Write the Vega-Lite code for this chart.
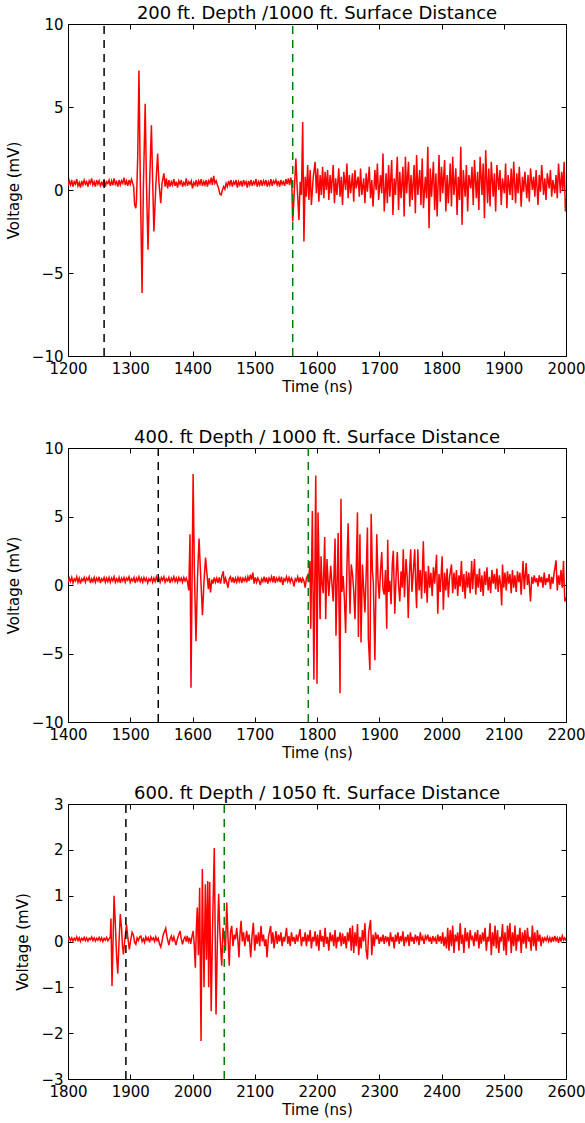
{
"$schema": "https://vega.github.io/schema/vega-lite/v6.json",
"padding": {"left": 5, "top": 4, "right": 19, "bottom": 5},
"background": "white",
"config": {
  "font": "DejaVu Sans",
  "view": {"stroke": "#000000", "strokeWidth": 1},
  "axis": {"domain": false, "grid": false, "ticks": true, "tickColor": "#000000", "tickSize": -5, "tickWidth": 1, "labelPadding": 10, "labelFont": "DejaVu Sans", "labelFontSize": 15, "labelColor": "#000000", "labelFlush": false, "labelOverlap": false, "titleFont": "DejaVu Sans", "titleFontSize": 15, "titleFontWeight": "normal", "titleColor": "#000000"},
  "axisX": {"titlePadding": 3},
  "axisY": {"titlePadding": 10},
  "title": {"font": "DejaVu Sans", "fontSize": 18, "fontWeight": "normal", "color": "#000000", "anchor": "middle", "baseline": "alphabetic", "offset": -6}
},
"datasets": {
"marks": [
 {"panel": 1, "t": 1258, "kind": "direct", "lo": -10, "hi": 10},
 {"panel": 1, "t": 1561, "kind": "reflected", "lo": -10, "hi": 10},
 {"panel": 2, "t": 1545, "kind": "direct", "lo": -10, "hi": 10},
 {"panel": 2, "t": 1786, "kind": "reflected", "lo": -10, "hi": 10},
 {"panel": 3, "t": 1893, "kind": "direct", "lo": -3, "hi": 3},
 {"panel": 3, "t": 2051, "kind": "reflected", "lo": -3, "hi": 3}
],
"p1": [
{"t":1200,"v":0.25},{"t":1202,"v":0.55},{"t":1204,"v":0.3},{"t":1206,"v":0.6},{"t":1208,"v":0.2},{"t":1210,"v":0.5},{"t":1212,"v":0.35},{"t":1214,"v":0.65},{"t":1216,"v":0.25},{"t":1218,"v":0.45},{"t":1220,"v":0.15},{"t":1222,"v":0.55},{"t":1224,"v":0.3},{"t":1226,"v":0.6},{"t":1228,"v":0.35},{"t":1230,"v":0.5},{"t":1232,"v":0.2},{"t":1234,"v":0.55},{"t":1236,"v":0.4},{"t":1238,"v":0.7},{"t":1240,"v":0.3},{"t":1242,"v":0.5},{"t":1244,"v":0.2},{"t":1246,"v":0.6},{"t":1248,"v":0.35},{"t":1250,"v":0.55},{"t":1252,"v":0.25},{"t":1254,"v":0.45},{"t":1256,"v":0.3},{"t":1258,"v":0.65},{"t":1260,"v":0.2},{"t":1262,"v":0.5},{"t":1264,"v":0.4},{"t":1266,"v":0.6},{"t":1268,"v":0.25},{"t":1270,"v":0.55},{"t":1272,"v":0.3},{"t":1274,"v":0.7},{"t":1276,"v":0.35},{"t":1278,"v":0.5},{"t":1280,"v":0.2},{"t":1282,"v":0.6},{"t":1284,"v":0.3},{"t":1286,"v":0.55},{"t":1288,"v":0.4},{"t":1290,"v":0.75},{"t":1292,"v":0.3},{"t":1294,"v":0.55},{"t":1296,"v":0.25},{"t":1298,"v":0.6},{"t":1300,"v":0.35},{"t":1302,"v":0.65},{"t":1304,"v":0.4},{"t":1305.5,"v":0.2},{"t":1307,"v":-0.9},{"t":1309,"v":-1.1},{"t":1310,"v":-0.6},{"t":1312,"v":2.0},{"t":1314,"v":7.2},{"t":1316,"v":1.0},{"t":1319,"v":-6.2},{"t":1321,"v":0.0},{"t":1324,"v":5.2},{"t":1326,"v":0.5},{"t":1328.5,"v":-3.6},{"t":1331,"v":0.3},{"t":1334,"v":3.9},{"t":1336,"v":0.5},{"t":1338,"v":-2.5},{"t":1341,"v":0.2},{"t":1344,"v":2.2},{"t":1346,"v":0.5},{"t":1349,"v":-0.8},{"t":1351,"v":0.4},{"t":1354,"v":1.0},{"t":1356,"v":0.2},{"t":1358,"v":0.7},{"t":1360,"v":0.1},
{"t":1362,"v":0.6},{"t":1364,"v":0.2},{"t":1366,"v":0.5},{"t":1368,"v":0.3},{"t":1370,"v":0.65},{"t":1372,"v":0.25},{"t":1374,"v":0.5},{"t":1376,"v":0.15},{"t":1378,"v":0.55},{"t":1380,"v":0.35},{"t":1382,"v":0.6},{"t":1384,"v":0.2},{"t":1386,"v":0.45},{"t":1388,"v":0.3},{"t":1390,"v":0.7},{"t":1392,"v":0.25},{"t":1394,"v":0.5},{"t":1396,"v":0.35},{"t":1398,"v":0.55},{"t":1400,"v":0.1},{"t":1402,"v":0.45},{"t":1404,"v":0.3},{"t":1406,"v":0.6},{"t":1408,"v":0.2},{"t":1410,"v":0.55},{"t":1412,"v":0.35},{"t":1414,"v":0.65},{"t":1416,"v":0.25},{"t":1418,"v":0.5},{"t":1420,"v":0.3},{"t":1422,"v":0.6},{"t":1424,"v":0.2},{"t":1426,"v":0.55},{"t":1428,"v":0.4},{"t":1430,"v":0.75},{"t":1432,"v":0.3},{"t":1434,"v":0.85},{"t":1436,"v":0.4},{"t":1438,"v":0.55},{"t":1440,"v":0.3},{"t":1442,"v":0.1},{"t":1444,"v":-0.25},{"t":1446,"v":-0.3},{"t":1448,"v":0.0},{"t":1450,"v":0.2},{"t":1452,"v":0.05},{"t":1454,"v":0.4},{"t":1456,"v":0.2},{"t":1458,"v":0.55},{"t":1460,"v":0.3},{"t":1462,"v":0.6},{"t":1464,"v":0.2},{"t":1466,"v":0.5},{"t":1468,"v":0.35},{"t":1470,"v":0.6},{"t":1472,"v":0.15},{"t":1474,"v":0.5},{"t":1476,"v":0.3},{"t":1478,"v":0.55},{"t":1480,"v":0.2},{"t":1482,"v":0.6},{"t":1484,"v":0.35},{"t":1486,"v":0.5},{"t":1488,"v":0.15},{"t":1490,"v":0.55},{"t":1492,"v":0.3},{"t":1494,"v":0.6},{"t":1496,"v":0.25},{"t":1498,"v":0.5},{"t":1500,"v":0.35},{"t":1502,"v":0.65},{"t":1504,"v":0.2},{"t":1506,"v":0.5},{"t":1508,"v":0.3},{"t":1510,"v":0.6},{"t":1512,"v":0.25},{"t":1514,"v":0.55},{"t":1516,"v":0.35},{"t":1518,"v":0.6},{"t":1520,"v":0.2},{"t":1522,"v":0.5},{"t":1524,"v":0.3},{"t":1526,"v":0.65},{"t":1528,"v":0.25},{"t":1530,"v":0.55},{"t":1532,"v":0.4},{"t":1534,"v":0.6},{"t":1536,"v":0.3},{"t":1538,"v":0.55},{"t":1540,"v":0.2},{"t":1542,"v":0.6},{"t":1544,"v":0.35},{"t":1546,"v":0.5},{"t":1548,"v":0.25},{"t":1550,"v":0.65},{"t":1552,"v":0.35},{"t":1554,"v":0.7},{"t":1556,"v":0.3},{"t":1558,"v":0.75},{"t":1559.5,"v":0.4},{"t":1561,"v":-1.9},{"t":1563,"v":-0.5},{"t":1566,"v":1.9},{"t":1568,"v":0.3},{"t":1571,"v":-1.8},{"t":1573,"v":0.5},{"t":1575,"v":-0.3},{"t":1577,"v":4.1},{"t":1579,"v":-3.1},{"t":1581,"v":0.8},{"t":1583,"v":-0.4},{"t":1585,"v":1.5},{"t":1587,"v":-0.6},{"t":1589,"v":1.2},{"t":1591,"v":-0.9},{"t":1594,"v":0.8},{"t":1597,"v":1.7},{"t":1599,"v":-0.2},{"t":1601,"v":1.3},{"t":1603,"v":-0.7},{"t":1605,"v":0.9},{"t":1607,"v":-0.3},{"t":1609,"v":1.4},{"t":1611,"v":-0.5},{"t":1613,"v":1.1},{"t":1615,"v":0.0},
{"t":1617,"v":1.2},{"t":1619,"v":-0.6},{"t":1621,"v":0.9},{"t":1623,"v":-0.2},{"t":1626,"v":1.5},{"t":1628,"v":-0.8},{"t":1630,"v":0.7},{"t":1632,"v":-0.3},{"t":1635,"v":1.3},{"t":1637,"v":-0.4},{"t":1639,"v":0.8},{"t":1641,"v":-0.9},{"t":1643,"v":1.1},{"t":1646,"v":0.0},{"t":1648,"v":1.6},{"t":1650,"v":-0.5},{"t":1652,"v":0.9},{"t":1654,"v":-0.2},{"t":1657,"v":1.0},{"t":1659,"v":-0.7},{"t":1661,"v":1.2},{"t":1663,"v":0.1},{"t":1666,"v":0.8},{"t":1668,"v":-0.4},{"t":1670,"v":1.3},{"t":1672,"v":-0.3},{"t":1675,"v":0.7},{"t":1677,"v":-0.8},{"t":1679,"v":1.0},{"t":1681,"v":-0.1},{"t":1684,"v":1.4},{"t":1686,"v":-0.5},{"t":1688,"v":0.6},{"t":1690,"v":-1.0},{"t":1693,"v":1.2},{"t":1695,"v":0.0},{"t":1697,"v":1.6},{"t":1699,"v":-0.6},{"t":1702,"v":0.9},{"t":1704,"v":-0.2},{"t":1706,"v":2.2},{"t":1708,"v":-1.3},{"t":1711,"v":1.0},{"t":1713,"v":-0.8},{"t":1715,"v":1.5},{"t":1717,"v":-0.4},{"t":1720,"v":1.8},{"t":1722,"v":-1.5},{"t":1724,"v":0.7},{"t":1726,"v":-0.3},{"t":1729,"v":2.0},{"t":1731,"v":-1.2},{"t":1733,"v":1.1},{"t":1735,"v":-0.5},{"t":1738,"v":1.4},{"t":1740,"v":-1.6},{"t":1742,"v":2.0},{"t":1744,"v":-0.2},{"t":1747,"v":1.7},{"t":1749,"v":-1.0},{"t":1751,"v":0.9},{"t":1753,"v":-0.6},{"t":1756,"v":1.5},{"t":1758,"v":-1.4},{"t":1760,"v":2.1},{"t":1762,"v":-0.3},{"t":1765,"v":1.2},{"t":1767,"v":-0.9},{"t":1769,"v":1.9},{"t":1771,"v":-1.1},{"t":1774,"v":0.8},{"t":1776,"v":-0.5},{"t":1778,"v":2.6},{"t":1780,"v":-2.3},{"t":1782,"v":1.3},{"t":1784,"v":-0.4},{"t":1787,"v":1.7},{"t":1789,"v":-1.2},{"t":1791,"v":1.0},{"t":1793,"v":-1.6},{"t":1796,"v":2.1},{"t":1798,"v":-0.7},{"t":1800,"v":1.4},{"t":1802,"v":-0.2},{"t":1805,"v":1.8},{"t":1807,"v":-1.3},{"t":1809,"v":0.9},{"t":1811,"v":-0.8},{"t":1814,"v":1.6},{"t":1816,"v":-1.0},{"t":1818,"v":2.0},{"t":1820,"v":-0.3},{"t":1823,"v":1.3},{"t":1825,"v":-1.5},{"t":1827,"v":0.8},{"t":1829,"v":-0.6},{"t":1831,"v":2.6},{"t":1833,"v":-2.1},{"t":1835,"v":1.2},{"t":1838,"v":-0.4},{"t":1840,"v":1.5},{"t":1842,"v":-1.3},{"t":1844,"v":0.9},{"t":1847,"v":0.1},{"t":1849,"v":1.4},{"t":1851,"v":-0.9},{"t":1853,"v":1.8},{"t":1856,"v":-0.5},{"t":1858,"v":1.1},{"t":1860,"v":-1.2},{"t":1862,"v":2.0},{"t":1865,"v":-0.3},{"t":1867,"v":1.6},{"t":1869,"v":-1.7},{"t":1871,"v":2.4},{"t":1874,"v":-0.8},{"t":1876,"v":1.3},{"t":1878,"v":-1.0},{"t":1880,"v":1.7},{"t":1883,"v":-0.4},{"t":1885,"v":1.0},{"t":1887,"v":-1.3},{"t":1889,"v":1.5},{"t":1892,"v":0.0},{"t":1894,"v":1.2},{"t":1896,"v":-0.9},{"t":1898,"v":0.7},{"t":1901,"v":-0.2},{"t":1903,"v":1.6},{"t":1905,"v":-1.1},{"t":1907,"v":0.9},{"t":1910,"v":-0.3},{"t":1912,"v":1.3},{"t":1914,"v":-0.6},{"t":1916,"v":1.7},{"t":1919,"v":-0.8},{"t":1921,"v":1.0},{"t":1923,"v":-0.2},{"t":1925,"v":1.4},{"t":1928,"v":-1.0},{"t":1930,"v":0.8},{"t":1932,"v":-0.1},{"t":1934,"v":1.1},{"t":1937,"v":-0.5},{"t":1939,"v":0.9},{"t":1941,"v":-0.7},{"t":1943,"v":1.3},{"t":1946,"v":0.0},{"t":1948,"v":0.8},{"t":1950,"v":-0.4},{"t":1952,"v":1.2},{"t":1955,"v":-0.9},{"t":1957,"v":0.9},{"t":1959,"v":-0.1},{"t":1961,"v":1.5},{"t":1964,"v":-0.3},{"t":1966,"v":0.7},{"t":1968,"v":-0.6},{"t":1970,"v":1.0},{"t":1973,"v":0.1},{"t":1975,"v":1.2},{"t":1977,"v":-0.4},{"t":1979,"v":0.6},{"t":1982,"v":-0.2},{"t":1984,"v":0.9},{"t":1986,"v":-0.5},{"t":1988,"v":1.6},{"t":1991,"v":-0.2},{"t":1993,"v":1.1},{"t":1995,"v":0.0},{"t":1997,"v":1.7},{"t":1999,"v":-1.3},{"t":2000,"v":-0.5}
],
"p2": [
{"t":1400,"v":0.2},{"t":1402,"v":0.5},{"t":1404,"v":0.25},{"t":1406,"v":0.55},{"t":1408,"v":0.15},{"t":1410,"v":0.45},{"t":1412,"v":0.3},{"t":1414,"v":0.6},{"t":1416,"v":0.2},{"t":1418,"v":0.5},{"t":1420,"v":0.1},{"t":1422,"v":0.45},{"t":1424,"v":0.3},{"t":1426,"v":0.55},{"t":1428,"v":0.2},{"t":1430,"v":0.5},{"t":1432,"v":0.35},{"t":1434,"v":0.6},{"t":1436,"v":0.15},{"t":1438,"v":0.45},{"t":1440,"v":0.25},{"t":1442,"v":0.55},{"t":1444,"v":0.2},{"t":1446,"v":0.5},{"t":1448,"v":0.3},{"t":1450,"v":0.6},{"t":1452,"v":0.15},{"t":1454,"v":0.45},{"t":1456,"v":0.3},{"t":1458,"v":0.55},{"t":1460,"v":0.2},{"t":1462,"v":0.5},{"t":1464,"v":0.25},{"t":1466,"v":0.55},{"t":1468,"v":0.2},{"t":1470,"v":0.5},{"t":1472,"v":0.3},{"t":1474,"v":0.6},{"t":1476,"v":0.2},{"t":1478,"v":0.45},{"t":1480,"v":0.25},{"t":1482,"v":0.55},{"t":1484,"v":0.15},{"t":1486,"v":0.5},{"t":1488,"v":0.3},{"t":1490,"v":0.55},{"t":1492,"v":0.2},{"t":1494,"v":0.5},{"t":1496,"v":0.35},{"t":1498,"v":0.6},{"t":1500,"v":0.2},{"t":1502,"v":0.45},{"t":1504,"v":0.3},{"t":1506,"v":0.55},{"t":1508,"v":0.15},{"t":1510,"v":0.5},{"t":1512,"v":0.3},{"t":1514,"v":0.6},{"t":1516,"v":0.25},{"t":1518,"v":0.5},{"t":1520,"v":0.2},{"t":1522,"v":0.55},{"t":1524,"v":0.3},{"t":1526,"v":0.5},{"t":1528,"v":0.15},{"t":1530,"v":0.45},{"t":1532,"v":0.3},{"t":1534,"v":0.55},{"t":1536,"v":0.2},{"t":1538,"v":0.5},{"t":1540,"v":0.25},{"t":1542,"v":0.6},{"t":1544,"v":0.3},{"t":1546,"v":0.5},{"t":1548,"v":0.2},{"t":1550,"v":0.55},{"t":1552,"v":0.35},{"t":1554,"v":0.6},{"t":1556,"v":0.2},{"t":1558,"v":0.45},{"t":1560,"v":0.3},{"t":1562,"v":0.55},{"t":1564,"v":0.15},{"t":1566,"v":0.5},{"t":1568,"v":0.3},{"t":1570,"v":0.6},{"t":1572,"v":0.25},{"t":1574,"v":0.5},{"t":1576,"v":0.2},{"t":1578,"v":0.55},{"t":1580,"v":0.3},{"t":1582,"v":0.5},{"t":1584,"v":0.2},{"t":1586,"v":0.55},{"t":1588,"v":0.3},{"t":1590,"v":0.5},{"t":1592,"v":0.2},{"t":1594,"v":-0.4},{"t":1596,"v":3.7},{"t":1597.6,"v":-7.5},{"t":1601,"v":8.1},{"t":1603,"v":1.0},{"t":1605.6,"v":-4.1},{"t":1608,"v":0.5},{"t":1610.5,"v":3.4},{"t":1613,"v":0.8},{"t":1616,"v":-2.2},{"t":1618.5,"v":0.3},{"t":1621,"v":2.0},{"t":1623,"v":0.9},{"t":1625.5,"v":-0.3},{"t":1627,"v":0.5},{"t":1629,"v":-0.55},
{"t":1631,"v":0.4},{"t":1633,"v":0.1},{"t":1635,"v":0.55},{"t":1637,"v":0.2},{"t":1639,"v":0.5},{"t":1641,"v":0.15},{"t":1643,"v":0.55},{"t":1645,"v":0.1},{"t":1647,"v":0.6},{"t":1649.5,"v":1.0},{"t":1651,"v":0.1},{"t":1653,"v":0.5},{"t":1655,"v":0.2},{"t":1657,"v":-0.2},{"t":1659,"v":0.45},{"t":1661,"v":0.6},{"t":1663,"v":0.2},{"t":1665,"v":0.55},{"t":1667,"v":0.15},{"t":1669,"v":0.5},{"t":1671,"v":0.2},{"t":1673,"v":0.55},{"t":1675,"v":0.25},{"t":1677,"v":0.6},{"t":1679,"v":0.15},{"t":1681,"v":0.5},{"t":1683,"v":0.3},{"t":1685,"v":0.55},{"t":1687,"v":0.2},{"t":1689,"v":0.6},{"t":1691,"v":0.3},{"t":1693,"v":0.75},{"t":1695,"v":0.4},{"t":1697,"v":0.9},{"t":1699,"v":0.1},{"t":1701,"v":0.55},{"t":1703,"v":0.2},{"t":1705,"v":0.5},{"t":1707,"v":0.3},{"t":1709,"v":0.0},{"t":1711,"v":0.45},{"t":1713,"v":0.25},{"t":1715,"v":0.6},{"t":1717,"v":0.2},{"t":1719,"v":0.55},{"t":1721,"v":0.1},{"t":1723,"v":0.5},{"t":1725,"v":0.3},{"t":1727,"v":0.6},{"t":1729,"v":0.2},{"t":1731,"v":0.65},{"t":1733,"v":0.15},{"t":1735,"v":0.5},{"t":1737,"v":0.3},{"t":1739,"v":0.55},{"t":1741,"v":0.2},{"t":1743,"v":0.6},{"t":1745,"v":0.0},{"t":1747,"v":0.45},{"t":1749,"v":0.3},{"t":1751,"v":0.6},{"t":1753,"v":0.25},{"t":1755,"v":0.55},{"t":1757,"v":0.2},{"t":1759,"v":0.5},{"t":1761,"v":0.3},{"t":1763,"v":-0.1},{"t":1765,"v":0.45},{"t":1767,"v":0.3},{"t":1769,"v":0.6},{"t":1771,"v":0.2},{"t":1773,"v":0.55},{"t":1775,"v":0.15},{"t":1777,"v":0.5},{"t":1779,"v":0.3},{"t":1781,"v":-0.2},{"t":1783,"v":0.5},{"t":1785,"v":0.7},{"t":1786.5,"v":0.2},
{"t":1788.7,"v":1.75},{"t":1790,"v":-3.2},{"t":1792.5,"v":5.4},{"t":1795,"v":-6.9},{"t":1798,"v":8.0},{"t":1800,"v":-7.2},{"t":1801.6,"v":5.3},{"t":1805,"v":-2.5},{"t":1806.5,"v":2.1},{"t":1808,"v":0.2},{"t":1810,"v":-0.6},{"t":1812.4,"v":3.5},{"t":1814,"v":-2.5},{"t":1816,"v":1.9},{"t":1819,"v":-0.8},{"t":1822,"v":1.4},{"t":1824,"v":0.1},{"t":1826,"v":-1.2},{"t":1829,"v":3.4},{"t":1830.5,"v":-3.7},{"t":1834,"v":3.8},{"t":1837,"v":-7.9},{"t":1838.5,"v":6.3},{"t":1840,"v":-0.5},{"t":1842,"v":0.65},{"t":1844,"v":-1.0},{"t":1846,"v":-3.5},{"t":1848,"v":1.2},{"t":1850,"v":4.5},{"t":1853,"v":-2.1},{"t":1855,"v":1.5},{"t":1857,"v":0.8},{"t":1859,"v":-0.4},{"t":1861,"v":-2.5},{"t":1863,"v":1.0},{"t":1865,"v":5.3},{"t":1866.5,"v":-3.8},{"t":1869,"v":3.7},{"t":1870.7,"v":-4.2},{"t":1873,"v":1.5},{"t":1875,"v":-0.3},{"t":1877,"v":-2.0},{"t":1879,"v":0.8},{"t":1881,"v":4.2},{"t":1882.5,"v":-3.9},{"t":1885,"v":-6.2},{"t":1887,"v":5.2},{"t":1889,"v":1.0},{"t":1890.5,"v":0.2},{"t":1893,"v":-5.5},{"t":1896,"v":3.7},{"t":1898,"v":0.4},{"t":1900,"v":-1.0},{"t":1902,"v":1.0},{"t":1904,"v":2.4},{"t":1906,"v":-0.3},{"t":1908,"v":-0.7},{"t":1910,"v":1.1},{"t":1912,"v":-3.2},{"t":1913.6,"v":3.3},{"t":1915,"v":-0.5},{"t":1917,"v":0.3},{"t":1919,"v":-1.4},{"t":1921,"v":1.6},{"t":1922.6,"v":2.5},{"t":1925,"v":-2.1},{"t":1927,"v":0.6},{"t":1929,"v":2.4},{"t":1931,"v":0.0},{"t":1933,"v":-1.2},{"t":1935,"v":1.0},{"t":1937,"v":-0.2},{"t":1938.6,"v":2.6},{"t":1940.5,"v":-0.9},{"t":1943,"v":1.9},{"t":1945,"v":0.5},{"t":1946.6,"v":-2.4},{"t":1948.5,"v":0.8},{"t":1950.5,"v":2.6},{"t":1952.5,"v":-0.5},{"t":1955,"v":1.2},{"t":1957,"v":2.6},{"t":1958.5,"v":0.0},{"t":1960,"v":-1.7},{"t":1962,"v":2.6},{"t":1964,"v":-0.4},{"t":1966,"v":1.1},{"t":1968,"v":-1.0},{"t":1970.8,"v":3.2},{"t":1973,"v":-0.6},{"t":1975,"v":1.0},{"t":1977,"v":-1.3},{"t":1979,"v":1.4},{"t":1981,"v":-0.2},{"t":1983,"v":0.9},{"t":1985,"v":-0.8},{"t":1987,"v":1.3},{"t":1989,"v":0.1},{"t":1992,"v":2.2},{"t":1994,"v":-2.1},{"t":1996,"v":0.8},{"t":1998,"v":-0.5},{"t":2001,"v":2.1},{"t":2003,"v":-1.8},{"t":2005,"v":0.9},{"t":2007,"v":-0.4},{"t":2009,"v":1.2},{"t":2011,"v":-0.9},{"t":2013,"v":0.6},{"t":2016,"v":1.5},{"t":2018,"v":-0.6},{"t":2020,"v":0.9},{"t":2022,"v":-0.3},{"t":2024,"v":1.1},{"t":2026,"v":-0.8},{"t":2028,"v":0.7},{"t":2030,"v":-0.1},{"t":2032,"v":1.75},{"t":2034,"v":-0.5},{"t":2036,"v":0.8},{"t":2038,"v":-1.0},{"t":2040,"v":1.0},{"t":2042,"v":-0.2},{"t":2044,"v":0.9},{"t":2046,"v":-0.6},{"t":2048.5,"v":1.75},{"t":2050,"v":-0.3},{"t":2053,"v":1.9},{"t":2055,"v":-0.7},{"t":2057,"v":0.8},{"t":2059,"v":-0.2},{"t":2061,"v":1.2},{"t":2063,"v":-0.5},{"t":2065,"v":0.7},{"t":2067,"v":-0.8},{"t":2069,"v":1.0},{"t":2071,"v":0.0},{"t":2073,"v":1.3},{"t":2075,"v":-0.4},{"t":2077,"v":0.6},{"t":2079,"v":-0.6},{"t":2081,"v":1.1},{"t":2083,"v":0.1},{"t":2085,"v":0.8},{"t":2087,"v":-0.3},{"t":2089,"v":1.2},{"t":2091,"v":-0.5},{"t":2093,"v":0.7},{"t":2095,"v":0.0},{"t":2096.7,"v":-1.5},{"t":2098,"v":1.5},{"t":2100,"v":-0.2},{"t":2102,"v":0.9},{"t":2104,"v":-0.4},{"t":2106,"v":1.0},{"t":2108,"v":0.1},{"t":2110,"v":0.8},{"t":2112,"v":-0.6},{"t":2114,"v":1.1},{"t":2116,"v":-0.2},{"t":2118,"v":0.7},{"t":2120,"v":-0.5},{"t":2122,"v":1.0},{"t":2124,"v":0.2},{"t":2126,"v":0.9},{"t":2128,"v":-0.7},{"t":2131,"v":1.75},{"t":2133,"v":-0.3},{"t":2136,"v":1.6},{"t":2138,"v":0.0},{"t":2140,"v":0.8},{"t":2143,"v":-1.2},{"t":2145,"v":0.6},{"t":2147,"v":0.1},{"t":2149,"v":0.7},{"t":2151,"v":0.2},{"t":2153,"v":0.5},{"t":2155,"v":-0.1},{"t":2157,"v":0.7},{"t":2159,"v":0.2},{"t":2161,"v":0.6},{"t":2163,"v":-0.2},{"t":2165,"v":0.9},{"t":2167,"v":0.0},{"t":2169,"v":0.5},{"t":2171,"v":0.2},{"t":2173,"v":0.8},{"t":2175,"v":-0.3},{"t":2177,"v":0.6},{"t":2179,"v":0.1},{"t":2181,"v":0.9},{"t":2184,"v":1.8},{"t":2186,"v":-0.4},{"t":2188,"v":0.7},{"t":2190,"v":0.0},{"t":2192,"v":1.1},{"t":2194,"v":-0.2},{"t":2196,"v":1.75},{"t":2198,"v":-1.2},{"t":2200,"v":-0.9}
],
"p3": [
{"t":1800,"v":0.03},{"t":1802,"v":0.09},{"t":1804,"v":0.02},{"t":1806,"v":0.08},{"t":1808,"v":0.01},{"t":1810,"v":0.07},{"t":1812,"v":0.03},{"t":1814,"v":0.1},{"t":1816,"v":0.02},{"t":1818,"v":0.08},{"t":1820,"v":0.0},{"t":1822,"v":0.07},{"t":1824,"v":0.03},{"t":1826,"v":0.09},{"t":1828,"v":0.02},{"t":1830,"v":0.08},{"t":1832,"v":0.01},{"t":1834,"v":0.07},{"t":1836,"v":0.04},{"t":1838,"v":0.1},{"t":1840,"v":0.02},{"t":1842,"v":0.08},{"t":1844,"v":0.01},{"t":1846,"v":0.07},{"t":1848,"v":0.03},{"t":1850,"v":0.09},{"t":1852,"v":0.02},{"t":1854,"v":0.08},{"t":1856,"v":0.0},{"t":1858,"v":0.07},{"t":1860,"v":0.03},{"t":1862,"v":0.09},{"t":1864,"v":0.02},{"t":1866,"v":0.06},{"t":1868,"v":0.1},{"t":1869,"v":0.5},{"t":1870.7,"v":-0.97},{"t":1872.5,"v":0.1},{"t":1874,"v":1.0},{"t":1876,"v":0.4},{"t":1878,"v":-0.3},{"t":1880,"v":-0.7},{"t":1882,"v":0.0},{"t":1884,"v":0.6},{"t":1886,"v":0.3},{"t":1887.5,"v":-0.1},{"t":1889,"v":-0.28},{"t":1891,"v":0.0},{"t":1894,"v":0.37},{"t":1896,"v":0.1},{"t":1898.5,"v":-0.17},{"t":1901,"v":0.05},{"t":1903,"v":0.2},{"t":1905,"v":0.15},{"t":1907,"v":-0.02},{"t":1909,"v":-0.06},{"t":1911,"v":0.08},{"t":1913,"v":0.02},{"t":1915,"v":0.1},{"t":1917,"v":0.12},{"t":1919,"v":0.0},{"t":1921,"v":0.06},{"t":1923,"v":-0.02},{"t":1925,"v":0.1},{"t":1927,"v":0.03},{"t":1929,"v":0.08},{"t":1931,"v":-0.02},{"t":1933,"v":0.1},{"t":1935,"v":0.04},{"t":1937,"v":0.08},{"t":1939,"v":0.0},{"t":1941,"v":0.1},{"t":1943,"v":0.02},{"t":1945,"v":0.07},{"t":1947,"v":-0.05},{"t":1949,"v":-0.12},{"t":1951,"v":0.0},{"t":1953,"v":0.15},{"t":1955,"v":0.22},{"t":1957,"v":0.29},{"t":1959,"v":0.1},{"t":1962,"v":-0.08},{"t":1964,"v":0.05},{"t":1966,"v":0.12},{"t":1968,"v":0.0},{"t":1970,"v":0.1},{"t":1972,"v":0.0},{"t":1973.5,"v":-0.08},{"t":1975.5,"v":0.05},{"t":1978,"v":0.15},{"t":1980,"v":0.23},{"t":1982,"v":0.05},{"t":1984,"v":-0.06},{"t":1986,"v":0.05},{"t":1988,"v":0.1},{"t":1990,"v":0.0},{"t":1991.6,"v":0.12},{"t":1993.5,"v":0.0},{"t":1995.5,"v":0.08},{"t":1997,"v":-0.05},{"t":1999,"v":0.1},{"t":2001,"v":0.23},{"t":2002.5,"v":0.0},{"t":2004.6,"v":-0.57},{"t":2006,"v":0.2},{"t":2007.7,"v":0.74},{"t":2009.5,"v":-0.3},{"t":2011.5,"v":1.17},{"t":2013.7,"v":-2.17},{"t":2015.8,"v":1.58},{"t":2017,"v":0.3},{"t":2018.5,"v":-1.0},{"t":2020.6,"v":1.25},{"t":2022.5,"v":-0.4},{"t":2024.4,"v":1.32},{"t":2026,"v":-1.0},{"t":2027.6,"v":1.3},{"t":2030,"v":-1.52},{"t":2032.5,"v":0.5},{"t":2035,"v":2.04},{"t":2037.8,"v":-1.59},{"t":2040,"v":0.0},{"t":2042,"v":1.04},{"t":2044,"v":0.2},{"t":2045.5,"v":-0.2},{"t":2047,"v":-0.53},{"t":2049,"v":0.3},{"t":2051,"v":0.05},{"t":2053,"v":-0.2},{"t":2055,"v":0.85},{"t":2057,"v":0.1},{"t":2059,"v":-0.53},{"t":2061,"v":0.2},{"t":2063,"v":0.34},{"t":2065,"v":-0.1},{"t":2067,"v":0.15},{"t":2069,"v":0.05},{"t":2071,"v":0.3},{"t":2073,"v":0.0},{"t":2074.7,"v":-0.35},{"t":2076,"v":0.1},{"t":2078,"v":0.45},{"t":2080,"v":0.0},{"t":2082,"v":0.2},{"t":2084,"v":-0.1},{"t":2087,"v":0.23},{"t":2089,"v":0.0},{"t":2091,"v":0.15},{"t":2093.5,"v":-0.35},{"t":2095.5,"v":0.1},{"t":2097.7,"v":0.41},{"t":2100,"v":-0.2},{"t":2102,"v":0.15},{"t":2104,"v":-0.05},{"t":2106,"v":0.2},{"t":2108,"v":-0.1},{"t":2110,"v":0.34},{"t":2112,"v":0.0},{"t":2114,"v":0.15},{"t":2116,"v":-0.1},{"t":2118,"v":0.05},{"t":2119.7,"v":-0.35},{"t":2122,"v":0.1},{"t":2125.6,"v":0.34},{"t":2127,"v":-0.05},{"t":2129,"v":0.2},{"t":2131,"v":-0.15},{"t":2134,"v":0.23},{"t":2136,"v":-0.05},{"t":2138,"v":0.15},{"t":2140,"v":0.0},{"t":2142,"v":0.2},{"t":2144,"v":-0.1},{"t":2146,"v":0.1},{"t":2148,"v":0.0},{"t":2151,"v":0.3},{"t":2153,"v":-0.05},{"t":2155,"v":0.12},{"t":2157,"v":-0.1},{"t":2159,"v":0.2},{"t":2161,"v":0.0},{"t":2163,"v":0.1},{"t":2165,"v":-0.05},{"t":2167,"v":0.15},{"t":2169,"v":0.0},{"t":2172.7,"v":0.27},{"t":2175,"v":-0.1},{"t":2177,"v":0.1},{"t":2179,"v":0.0},{"t":2181,"v":0.2},{"t":2183,"v":-0.1},{"t":2185,"v":0.15},{"t":2187,"v":0.0},
{"t":2189,"v":0.25},{"t":2191,"v":-0.15},{"t":2193,"v":0.1},{"t":2195,"v":0.0},{"t":2197,"v":0.22},{"t":2199,"v":-0.1},{"t":2201,"v":0.15},{"t":2203,"v":-0.2},{"t":2205,"v":0.25},{"t":2207,"v":0.0},{"t":2209,"v":0.12},{"t":2211,"v":-0.12},{"t":2213,"v":0.3},{"t":2215,"v":-0.05},{"t":2217,"v":0.1},{"t":2219,"v":-0.2},{"t":2221,"v":0.2},{"t":2223,"v":0.0},{"t":2225,"v":0.15},{"t":2227,"v":-0.1},{"t":2229,"v":0.25},{"t":2231,"v":-0.15},{"t":2233,"v":0.1},{"t":2235,"v":0.0},{"t":2237,"v":0.2},{"t":2239,"v":-0.1},{"t":2241,"v":0.18},{"t":2243,"v":-0.05},{"t":2245,"v":0.12},{"t":2247,"v":-0.15},{"t":2249,"v":0.2},{"t":2251,"v":0.0},{"t":2253,"v":0.3},{"t":2255,"v":-0.2},{"t":2257,"v":0.35},{"t":2259,"v":-0.25},{"t":2261,"v":0.2},{"t":2263,"v":-0.1},{"t":2265,"v":0.38},{"t":2267,"v":-0.3},{"t":2269,"v":0.1},{"t":2271,"v":-0.15},{"t":2273,"v":0.25},{"t":2275,"v":0.0},{"t":2277,"v":0.4},{"t":2279,"v":-0.2},{"t":2281,"v":-0.39},{"t":2283,"v":0.2},{"t":2286,"v":0.47},{"t":2288,"v":-0.3},{"t":2290,"v":0.15},{"t":2292,"v":-0.1},{"t":2294,"v":0.2},{"t":2296,"v":0.05},{"t":2298,"v":0.15},{"t":2300,"v":-0.05},{"t":2302,"v":0.1},{"t":2304,"v":0.0},{"t":2306,"v":0.15},{"t":2308,"v":-0.05},{"t":2310,"v":0.12},{"t":2312,"v":0.02},{"t":2314,"v":0.1},{"t":2316,"v":-0.1},{"t":2318,"v":0.2},{"t":2320,"v":0.0},{"t":2322,"v":0.1},{"t":2324,"v":-0.15},{"t":2326,"v":0.15},{"t":2328,"v":0.0},{"t":2330,"v":0.2},{"t":2332,"v":-0.05},{"t":2334,"v":0.12},{"t":2336,"v":0.0},{"t":2338,"v":0.22},{"t":2340,"v":-0.1},{"t":2342,"v":0.1},{"t":2344,"v":0.02},{"t":2346,"v":0.15},{"t":2348,"v":-0.1},{"t":2350,"v":0.2},{"t":2352,"v":0.0},{"t":2354,"v":0.1},{"t":2356,"v":-0.05},{"t":2358,"v":0.15},{"t":2360,"v":0.03},{"t":2362,"v":0.12},{"t":2364,"v":-0.08},{"t":2366,"v":0.2},{"t":2368,"v":0.02},{"t":2370,"v":0.1},{"t":2372,"v":-0.05},{"t":2374,"v":0.12},{"t":2376,"v":0.05},{"t":2378,"v":0.15},{"t":2380,"v":0.0},{"t":2382,"v":0.1},{"t":2384,"v":-0.05},{"t":2386,"v":0.12},{"t":2388,"v":0.02},{"t":2390,"v":0.08},{"t":2392,"v":-0.05},{"t":2394,"v":0.15},{"t":2396,"v":0.0},{"t":2398,"v":0.12},{"t":2400,"v":-0.05},{"t":2402,"v":0.2},{"t":2404,"v":-0.1},{"t":2406,"v":0.1},{"t":2408,"v":-0.15},{"t":2410,"v":0.3},{"t":2412,"v":-0.2},{"t":2414,"v":0.25},{"t":2416,"v":-0.1},{"t":2418,"v":0.35},{"t":2420,"v":-0.25},{"t":2422,"v":0.15},{"t":2424,"v":0.0},{"t":2426,"v":0.2},{"t":2428,"v":-0.2},{"t":2430,"v":0.4},{"t":2432,"v":-0.05},{"t":2434,"v":0.15},{"t":2436,"v":-0.25},{"t":2438,"v":0.3},{"t":2440,"v":0.0},{"t":2442,"v":0.2},{"t":2444,"v":-0.15},{"t":2446,"v":0.25},{"t":2448,"v":0.05},{"t":2450,"v":0.1},{"t":2452,"v":-0.1},{"t":2454,"v":0.2},{"t":2456,"v":0.0},{"t":2458,"v":0.25},{"t":2460,"v":-0.15},{"t":2462,"v":0.15},{"t":2464,"v":-0.05},{"t":2466,"v":0.2},{"t":2468,"v":0.0},{"t":2470,"v":0.3},{"t":2472,"v":-0.2},{"t":2474,"v":0.1},{"t":2476,"v":0.0},{"t":2478,"v":0.4},{"t":2480,"v":-0.3},{"t":2482,"v":0.2},{"t":2484,"v":-0.1},{"t":2486,"v":0.35},{"t":2488,"v":-0.15},{"t":2490,"v":0.25},{"t":2492,"v":-0.25},{"t":2494,"v":0.1},{"t":2496,"v":0.0},{"t":2498,"v":0.38},{"t":2500,"v":-0.2},{"t":2502,"v":0.2},{"t":2504,"v":-0.3},{"t":2506,"v":0.35},{"t":2508,"v":0.0},{"t":2510,"v":0.4},{"t":2512,"v":-0.25},{"t":2514,"v":0.2},{"t":2516,"v":-0.1},{"t":2518,"v":0.35},{"t":2520,"v":-0.2},{"t":2522,"v":0.15},{"t":2524,"v":0.0},{"t":2526,"v":0.3},{"t":2528,"v":-0.25},{"t":2530,"v":0.2},{"t":2532,"v":-0.05},{"t":2534,"v":0.25},{"t":2536,"v":-0.15},{"t":2538,"v":0.3},{"t":2540,"v":0.0},{"t":2542,"v":0.1},{"t":2544,"v":-0.2},{"t":2546,"v":0.35},{"t":2548,"v":-0.1},{"t":2550,"v":0.2},{"t":2552,"v":-0.2},{"t":2554,"v":0.25},{"t":2556,"v":0.0},{"t":2558,"v":0.15},{"t":2560,"v":-0.1},{"t":2562,"v":0.1},{"t":2564,"v":0.0},{"t":2566,"v":0.08},{"t":2568,"v":0.02},{"t":2570,"v":0.1},{"t":2572,"v":0.0},{"t":2574,"v":0.08},{"t":2576,"v":-0.02},{"t":2578,"v":0.1},{"t":2580,"v":0.0},{"t":2582,"v":0.12},{"t":2584,"v":0.02},{"t":2586,"v":0.08},{"t":2588,"v":-0.03},{"t":2590,"v":0.1},{"t":2592,"v":0.0},{"t":2594,"v":0.12},{"t":2596,"v":0.03},{"t":2598,"v":0.08},{"t":2600,"v":0.02}
]
},
"spacing": 33,
"vconcat": [
{
 "width": 498, "height": 332,
 "title": {"text": "200 ft. Depth /1000 ft. Surface Distance"},
 "resolve": {"axis": {"x": "independent", "y": "independent"}},
 "layer": [
  {"data": {"name": "p1"},
   "mark": {"type": "line", "color": "#ff0000", "strokeWidth": 1.5, "clip": true},
   "encoding": {
    "x": {"field": "t", "type": "quantitative", "scale": {"domain": [1200, 2000], "nice": false}, "axis": {"title": "Time (ns)", "format": "d", "values": [1200,1300,1400,1500,1600,1700,1800,1900,2000]}},
    "y": {"field": "v", "type": "quantitative", "scale": {"domain": [-10, 10], "nice": false}, "axis": {"title": "Voltage (mV)", "format": "d", "values": [-10,-5,0,5,10]}}
   }},
  {"data": {"name": "marks"}, "transform": [{"filter": "datum.panel == 1"}],
   "mark": {"type": "rule", "strokeDash": [8, 6], "strokeWidth": 1.5},
   "encoding": {
    "x": {"field": "t", "type": "quantitative", "scale": {"domain": [1200, 2000], "nice": false}, "axis": {"orient": "top", "labels": false, "title": null, "values": [1200,1300,1400,1500,1600,1700,1800,1900,2000]}},
    "y": {"field": "lo", "type": "quantitative", "scale": {"domain": [-10, 10], "nice": false}, "axis": {"orient": "right", "labels": false, "title": null, "values": [-10,-5,0,5,10]}},
    "y2": {"field": "hi"},
    "color": {"field": "kind", "type": "nominal", "scale": {"domain": ["direct", "reflected"], "range": ["#000000", "#008000"]}, "legend": null}
   }}
 ]
},
{
 "spacing": 23,
 "vconcat": [
 {
  "width": 498, "height": 274,
  "title": {"text": "400. ft Depth / 1000 ft. Surface Distance"},
  "resolve": {"axis": {"x": "independent", "y": "independent"}},
  "layer": [
   {"data": {"name": "p2"},
    "mark": {"type": "line", "color": "#ff0000", "strokeWidth": 1.5, "clip": true},
    "encoding": {
     "x": {"field": "t", "type": "quantitative", "scale": {"domain": [1400, 2200], "nice": false}, "axis": {"title": "Time (ns)", "format": "d", "values": [1400,1500,1600,1700,1800,1900,2000,2100,2200]}},
     "y": {"field": "v", "type": "quantitative", "scale": {"domain": [-10, 10], "nice": false}, "axis": {"title": "Voltage (mV)", "format": "d", "values": [-10,-5,0,5,10]}}
    }},
   {"data": {"name": "marks"}, "transform": [{"filter": "datum.panel == 2"}],
    "mark": {"type": "rule", "strokeDash": [8, 6], "strokeWidth": 1.5},
    "encoding": {
     "x": {"field": "t", "type": "quantitative", "scale": {"domain": [1400, 2200], "nice": false}, "axis": {"orient": "top", "labels": false, "title": null, "values": [1400,1500,1600,1700,1800,1900,2000,2100,2200]}},
     "y": {"field": "lo", "type": "quantitative", "scale": {"domain": [-10, 10], "nice": false}, "axis": {"orient": "right", "labels": false, "title": null, "values": [-10,-5,0,5,10]}},
     "y2": {"field": "hi"},
     "color": {"field": "kind", "type": "nominal", "scale": {"domain": ["direct", "reflected"], "range": ["#000000", "#008000"]}, "legend": null}
    }}
  ]
 },
 {
  "width": 498, "height": 275,
  "title": {"text": "600. ft Depth / 1050 ft. Surface Distance"},
  "resolve": {"axis": {"x": "independent", "y": "independent"}},
  "layer": [
   {"data": {"name": "p3"},
    "mark": {"type": "line", "color": "#ff0000", "strokeWidth": 1.5, "clip": true},
    "encoding": {
     "x": {"field": "t", "type": "quantitative", "scale": {"domain": [1800, 2600], "nice": false}, "axis": {"title": "Time (ns)", "format": "d", "values": [1800,1900,2000,2100,2200,2300,2400,2500,2600]}},
     "y": {"field": "v", "type": "quantitative", "scale": {"domain": [-3, 3], "nice": false}, "axis": {"title": "Voltage (mV)", "format": "d", "values": [-3,-2,-1,0,1,2,3]}}
    }},
   {"data": {"name": "marks"}, "transform": [{"filter": "datum.panel == 3"}],
    "mark": {"type": "rule", "strokeDash": [8, 6], "strokeWidth": 1.5},
    "encoding": {
     "x": {"field": "t", "type": "quantitative", "scale": {"domain": [1800, 2600], "nice": false}, "axis": {"orient": "top", "labels": false, "title": null, "values": [1800,1900,2000,2100,2200,2300,2400,2500,2600]}},
     "y": {"field": "lo", "type": "quantitative", "scale": {"domain": [-3, 3], "nice": false}, "axis": {"orient": "right", "labels": false, "title": null, "values": [-3,-2,-1,0,1,2,3]}},
     "y2": {"field": "hi"},
     "color": {"field": "kind", "type": "nominal", "scale": {"domain": ["direct", "reflected"], "range": ["#000000", "#008000"]}, "legend": null}
    }}
  ]
 }
 ]
}
]
}
